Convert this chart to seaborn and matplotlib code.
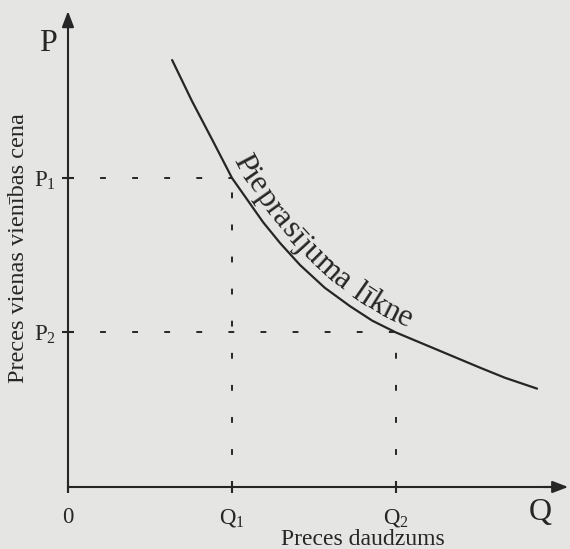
import numpy as np
import matplotlib
matplotlib.use('Agg')
import matplotlib.pyplot as plt
import seaborn as sns

# demand curve (quantity, price in plain units)
quantity = [1.27, 1.51, 1.77, 2.0, 2.38, 2.59, 2.83, 3.13, 3.44, 3.71, 4.0, 4.42, 5.02, 5.33, 5.72]
price = [8.29, 7.50, 6.71, 6.0, 5.14, 4.73, 4.31, 3.87, 3.51, 3.23, 3.0, 2.72, 2.32, 2.12, 1.91]

q_marks = [2.0, 4.0]
p_marks = [6.0, 3.0]
x_ticklabels = ['0', 'Q$_1$', 'Q$_2$']
y_ticklabels = ['P$_1$', 'P$_2$']
curve_label = 'Pieprasījuma līkne'
label_span = [1.91, 4.11]  # part of the curve the label runs along (quantity)

sns.set_theme(style='white')
plt.rcParams['font.family'] = ['Liberation Serif', 'DejaVu Serif']
plt.rcParams['mathtext.default'] = 'regular'

ink = '#262626'
paper = '#e5e5e3'

fig = plt.figure(figsize=(5.7, 5.49), dpi=100, facecolor=paper)
ax = fig.add_axes([0, 0, 1, 1])
ax.set_facecolor(paper)
ax.set_xlim(-0.829, 6.122)
ax.set_ylim(-1.204, 9.456)

# axes crossing at the origin, with arrow heads
for side in ['top', 'right']:
    ax.spines[side].set_visible(False)
for side in ['left', 'bottom']:
    ax.spines[side].set_position(('data', 0))
    ax.spines[side].set_color(ink)
    ax.spines[side].set_linewidth(1.5)
ax.spines['left'].set_bounds(-0.08, 9.1)
ax.spines['bottom'].set_bounds(0, 6.0)
head = dict(arrowstyle='-|>,head_length=0.63,head_width=0.24', color=ink, lw=1.5,
            mutation_scale=15, shrinkA=0, shrinkB=0)
ax.annotate('', xy=(0, 9.24), xytext=(0, 8.9), arrowprops=head, annotation_clip=False)
ax.annotate('', xy=(6.1, 0), xytext=(5.8, 0), arrowprops=head, annotation_clip=False)

ax.set_xticks([0] + q_marks, x_ticklabels)
ax.set_yticks(p_marks, y_ticklabels)
ax.tick_params(axis='both', direction='inout', length=9, width=1.5, color=ink,
               labelcolor=ink, labelsize=16.5, bottom=True, left=True)
ax.tick_params(axis='x', pad=10)
ax.tick_params(axis='y', pad=4)

# guide lines to the axes
guide = dict(color=ink, lw=1.4, linestyle=(0, (3, 13.5)))
for q, p in zip(q_marks, p_marks):
    ax.plot([0, q], [p, p], **guide)
    ax.plot([q, q], [0, p], **guide)

sns.lineplot(x=quantity, y=price, sort=False, estimator=None, color=ink, lw=1.6, ax=ax)

ax.text(-0.25, 8.61, 'P', fontsize=23, color=ink, ha='center', va='center')
ax.text(5.76, -0.49, 'Q', fontsize=23, color=ink, ha='center', va='center')

ax.set_xlabel('Preces daudzums', fontsize=17, color=ink, va='baseline')
ax.xaxis.set_label_coords(0.637, 0.008)
ax.set_ylabel('Preces vienas vienības cena', fontsize=17.5, color=ink, va='center')
ax.yaxis.set_label_coords(0.033, 0.549)

# label written along the curve, one letter at a time
fig.canvas.draw()
renderer = fig.canvas.get_renderer()
disp = ax.transData.transform(np.column_stack([quantity, price]))
arc = np.r_[0, np.cumsum(np.hypot(*np.diff(disp, axis=0).T))]
ss = np.linspace(0, arc[-1], 4000)
cx = np.interp(ss, arc, disp[:, 0])
cy = np.interp(ss, arc, disp[:, 1])
win = np.ones(121) / 121
cx = np.convolve(np.pad(cx, 60, mode='edge'), win, mode='valid')
cy = np.convolve(np.pad(cy, 60, mode='edge'), win, mode='valid')
gx, gy = np.gradient(cx), np.gradient(cy)
g = np.hypot(gx, gy)
tx, ty = gx / g, gy / g
offset = 9.0
bx = cx - offset * ty
by = cy + offset * tx
s = np.r_[0, np.cumsum(np.hypot(np.diff(bx), np.diff(by)))]
x0 = ax.transData.transform((label_span[0], 0))[0]
x1 = ax.transData.transform((label_span[1], 0))[0]
s0, s1 = np.interp(x0, cx, s), np.interp(x1, cx, s)

fs = 23


def text_width(txt):
    t = ax.text(0, 0, txt, fontsize=fs)
    w = t.get_window_extent(renderer).width
    t.remove()
    return w


total = text_width(curve_label)
k = (s1 - s0) / total
for i, ch in enumerate(curve_label):
    if ch == ' ':
        continue
    centre = text_width(curve_label[:i + 1]) - text_width(ch) / 2
    si = s0 + k * centre
    px = np.interp(si, s, bx)
    py = np.interp(si, s, by)
    ang = np.degrees(np.arctan2(np.interp(si, s, ty), np.interp(si, s, tx)))
    xd, yd = ax.transData.inverted().transform((px, py))
    ax.text(xd, yd, ch, fontsize=fs, color=ink, ha='center', va='baseline',
            rotation=ang, rotation_mode='anchor')

fig.savefig('out.png', dpi=100, facecolor=paper)
